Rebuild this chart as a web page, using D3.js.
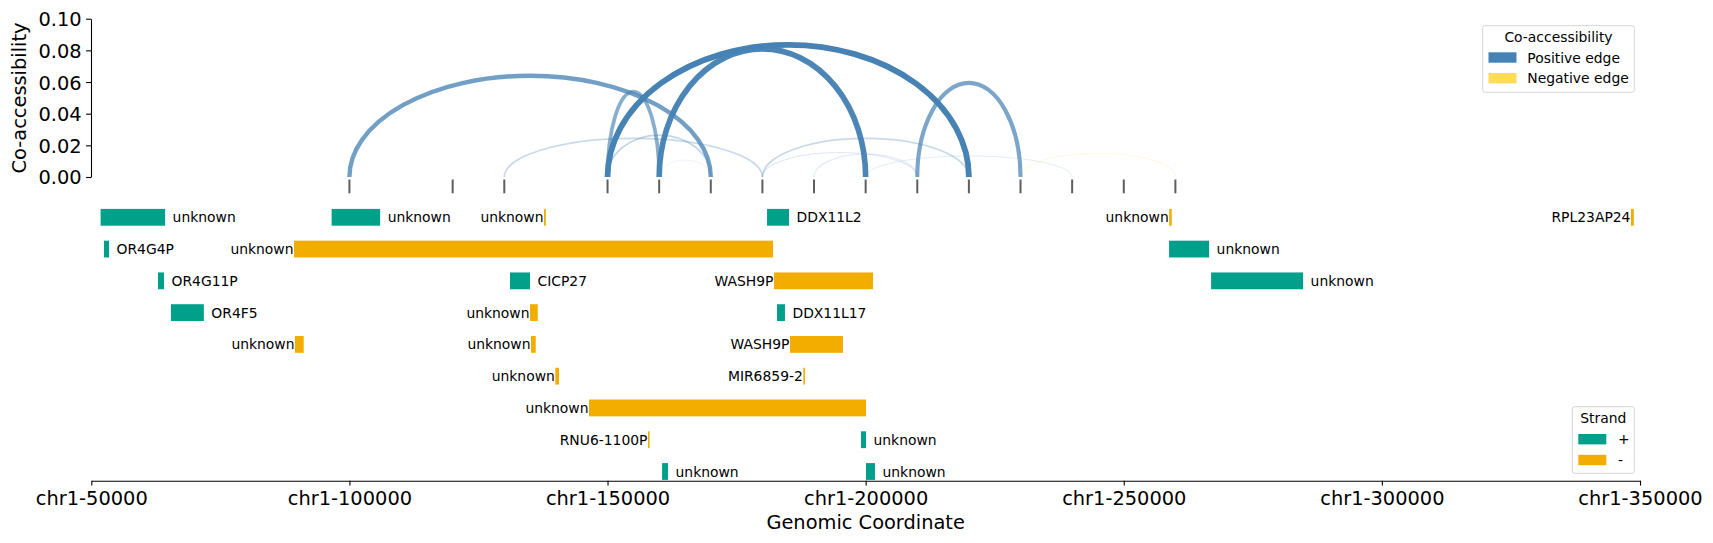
<!DOCTYPE html>
<html>
<head>
<meta charset="utf-8">
<script src="https://cdn.jsdelivr.net/npm/d3@7"></script>
<style>
  body { margin: 0; background: #fff; }
  text { font-family: "DejaVu Sans", sans-serif; }
</style>
</head>
<body>
<div id="chart"></div>
<script>
// chart data

// peak centres (ticks under the arcs)
var peakPositions = [100000, 120000, 130000, 150000, 160000, 170000, 180000,
  190000, 200000, 210000, 220000, 230000, 240000, 250000, 260000];

// co-accessibility links (negative score = negative edge)
var linkStarts = [150000, 160000, 100000, 210000, 150000, 150000, 130000, 180000,
  180000, 190000, 200000, 230000, 160000, 160000, 100000, 130000, 220000, 180000];
var linkEnds = [220000, 200000, 170000, 230000, 160000, 170000, 180000, 220000,
  210000, 210000, 240000, 260000, 170000, 180000, 120000, 150000, 250000, 200000];
var linkScores = [0.0835, 0.081, 0.064, 0.0595, 0.054, 0.0265, 0.0244, 0.0244,
  0.0155, 0.0145, 0.0133, -0.015, 0.0107, -0.009, -0.005, 0.004, 0.004, -0.004];

// genes
var geneNames = ["unknown", "unknown", "unknown", "DDX11L2", "unknown", "RPL23AP24",
  "OR4G4P", "unknown", "unknown",
  "OR4G11P", "CICP27", "WASH9P", "unknown",
  "OR4F5", "unknown", "DDX11L17",
  "unknown", "unknown", "WASH9P",
  "unknown", "MIR6859-2",
  "unknown",
  "RNU6-1100P", "unknown",
  "unknown", "unknown"];
var geneStarts = [51800, 96550, 137700, 180900, 258800, 348250,
  52450, 89270, 258780,
  62920, 131110, 182250, 266920,
  65420, 134990, 182830,
  89460, 135180, 185340,
  139890, 187930,
  146410,
  157840, 199100,
  160560, 200070];
var geneEnds = [64300, 105950, 138050, 185150, 259300, 348800,
  53430, 182060, 266530,
  64080, 134980, 201420, 284740,
  71800, 136480, 184370,
  91150, 136090, 195600,
  140600, 188260,
  200070,
  158040, 200070,
  161720, 201810];
var geneStrands = ["+", "+", "-", "+", "-", "-",
  "+", "-", "+",
  "+", "+", "-", "+",
  "+", "-", "+",
  "-", "-", "-",
  "-", "-",
  "-",
  "-", "+",
  "+", "+"];
var geneRows = [0, 0, 0, 0, 0, 0,
  1, 1, 1,
  2, 2, 2, 2,
  3, 3, 3,
  4, 4, 4,
  5, 5,
  6,
  7, 7,
  8, 8];

var xTickValues = [50000, 100000, 150000, 200000, 250000, 300000, 350000];
var yTickValues = [0, 0.02, 0.04, 0.06, 0.08, 0.10];

var strandColors = {"+": "#00A08A", "-": "#F2AD00"};
var edgeColors = {pos: "#4682B4", neg: "#FFDD57"};

// set the stage
var svgWidth = 1713;
var svgHeight = 543;

var svg = d3.select("#chart")
  .append("svg")
  .attr("width", svgWidth)
  .attr("height", svgHeight);

var x = d3.scaleLinear()
  .domain([50000, 350000])
  .range([91.3, 1640]);

var y = d3.scaleLinear()
  .domain([0, 0.1])
  .range([177, 18.7]);

var row = d3.scaleLinear()
  .domain([0, 8])
  .range([217.3, 471.5]);

var tickFont = 19.4;
var smallFont = 13.9;

// ---------------- arcs panel ----------------
var leftAxis = d3.axisLeft(y)
  .tickValues(yTickValues)
  .tickFormat(d3.format(".2f"))
  .tickSize(4.9)
  .tickPadding(4.5)
  .tickSizeOuter(0);

var yAxisG = svg.append("g")
  .attr("transform", "translate(91, 0)")
  .call(leftAxis);
yAxisG.select(".domain").attr("stroke", "#000").attr("stroke-width", 1.1);
yAxisG.selectAll(".tick line").attr("stroke", "#000").attr("stroke-width", 1.1);
yAxisG.selectAll(".tick text")
  .attr("font-size", tickFont)
  .attr("font-family", "DejaVu Sans")
  .attr("fill", "#000")
  .attr("dy", "0.36em");

svg.append("text")
  .attr("transform", "translate(26, 98) rotate(-90)")
  .attr("text-anchor", "middle")
  .attr("font-size", tickFont)
  .text("Co-accessibility");

var maxScore = d3.max(linkScores, d => Math.abs(d));
var links = linkStarts.map(function(s, i) {
  return {start: s, end: linkEnds[i], score: linkScores[i]};
}).sort((a, b) => Math.abs(a.score) - Math.abs(b.score));

svg.append("g").selectAll("path")
  .data(links)
  .enter()
  .append("path")
  .attr("d", function(d) {
    var x1 = x(d.start), x2 = x(d.end);
    var rx = (x2 - x1) / 2;
    var ry = y(0) - y(Math.abs(d.score));
    return "M" + x1 + "," + y(0) + " A" + rx + "," + ry + " 0 0 1 " + x2 + "," + y(0);
  })
  .attr("fill", "none")
  .attr("stroke", d => d.score > 0 ? edgeColors.pos : edgeColors.neg)
  .attr("stroke-opacity", d => Math.abs(d.score) / maxScore)
  .attr("stroke-width", d => 5.8 * Math.abs(d.score) / maxScore);

// peak markers
svg.append("g").selectAll("line")
  .data(peakPositions)
  .enter()
  .append("line")
  .attr("x1", d => x(d))
  .attr("x2", d => x(d))
  .attr("y1", 179.5)
  .attr("y2", 193.3)
  .attr("stroke", "#5e5e5e")
  .attr("stroke-width", 2);

// co-accessibility legend
var leg1 = svg.append("g");
leg1.append("rect")
  .attr("x", 1482.7).attr("y", 25.7)
  .attr("width", 151.6).attr("height", 66.6)
  .attr("rx", 2.5)
  .attr("fill", "#fff")
  .attr("stroke", "#d6d6d6");
leg1.append("text")
  .attr("x", 1558.5).attr("y", 41.7)
  .attr("text-anchor", "middle")
  .attr("font-size", smallFont)
  .text("Co-accessibility");
var leg1Items = [["Positive edge", edgeColors.pos], ["Negative edge", edgeColors.neg]];
leg1.selectAll("g.item")
  .data(leg1Items)
  .enter()
  .append("g")
  .attr("class", "item")
  .each(function(d, i) {
    var cy = 57.5 + i * 20.7;
    d3.select(this).append("rect")
      .attr("x", 1488.5).attr("y", cy - 5.2)
      .attr("width", 28).attr("height", 10.4)
      .attr("fill", d[1]);
    d3.select(this).append("text")
      .attr("x", 1527.3).attr("y", cy + 5)
      .attr("font-size", smallFont)
      .text(d[0]);
  });

// ---------------- genes panel ----------------
var genes = geneNames.map(function(n, i) {
  return {name: n, start: geneStarts[i], end: geneEnds[i],
    strand: geneStrands[i], row: geneRows[i]};
});

var barH = 16.8;
var geneG = svg.append("g");

geneG.selectAll("rect")
  .data(genes)
  .enter()
  .append("rect")
  .attr("x", d => x(d.start))
  .attr("y", d => row(d.row) - barH / 2)
  .attr("width", d => Math.max(1.6, x(d.end) - x(d.start)))
  .attr("height", barH)
  .attr("fill", d => strandColors[d.strand]);

geneG.selectAll("text")
  .data(genes)
  .enter()
  .append("text")
  .attr("x", d => d.strand === "+" ? x(d.end) + 7.5 : x(d.start) - 0.5)
  .attr("y", d => row(d.row) + 5)
  .attr("text-anchor", d => d.strand === "+" ? "start" : "end")
  .attr("font-size", smallFont)
  .attr("fill", "#000")
  .text(d => d.name);

var bottomAxis = d3.axisBottom(x)
  .tickValues(xTickValues)
  .tickFormat(d => "chr1-" + d)
  .tickSize(4.9)
  .tickPadding(5)
  .tickSizeOuter(0);

var xAxisG = svg.append("g")
  .attr("transform", "translate(0, 480.7)")
  .call(bottomAxis);
xAxisG.select(".domain").attr("stroke", "#000").attr("stroke-width", 1.1);
xAxisG.selectAll(".tick line").attr("stroke", "#000").attr("stroke-width", 1.1);
xAxisG.selectAll(".tick text")
  .attr("font-size", tickFont)
  .attr("font-family", "DejaVu Sans")
  .attr("fill", "#000")
  .attr("dy", "0.73em");

svg.append("text")
  .attr("x", x(200000))
  .attr("y", 529)
  .attr("text-anchor", "middle")
  .attr("font-size", tickFont)
  .text("Genomic Coordinate");

// strand legend
var leg2 = svg.append("g");
leg2.append("rect")
  .attr("x", 1572.3).attr("y", 406.7)
  .attr("width", 62).attr("height", 66.6)
  .attr("rx", 2.5)
  .attr("fill", "#fff")
  .attr("stroke", "#d6d6d6");
leg2.append("text")
  .attr("x", 1603.3).attr("y", 423.3)
  .attr("text-anchor", "middle")
  .attr("font-size", smallFont)
  .text("Strand");
var leg2Items = ["+", "-"];
leg2.selectAll("g.item")
  .data(leg2Items)
  .enter()
  .append("g")
  .attr("class", "item")
  .each(function(d, i) {
    var cy = 439.2 + i * 20.8;
    d3.select(this).append("rect")
      .attr("x", 1578.3).attr("y", cy - 5.2)
      .attr("width", 28).attr("height", 10.4)
      .attr("fill", strandColors[d]);
    d3.select(this).append("text")
      .attr("x", 1618).attr("y", cy + 5)
      .attr("font-size", smallFont)
      .text(d);
  });
</script>
</body>
</html>
